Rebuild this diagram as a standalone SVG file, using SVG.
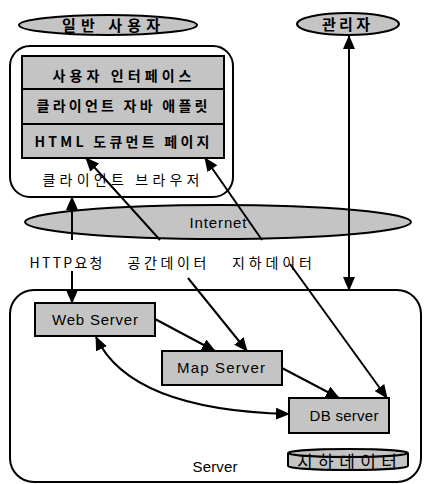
<svg xmlns="http://www.w3.org/2000/svg" width="424" height="484" viewBox="0 0 424 484">
<defs>
<marker id="ah" markerUnits="userSpaceOnUse" markerWidth="14" markerHeight="12" refX="13" refY="6" orient="auto-start-reverse">
<path d="M0,0 L14,6 L0,12 Z" fill="#000"/>
</marker>
</defs>
<style>
.g{fill:#c4c4c4;stroke:#000;stroke-width:2}
.frame{fill:#fff;stroke:#000;stroke-width:2}
.t{font-family:"Liberation Sans","Noto Sans CJK KR",sans-serif;font-size:15px;fill:#000;text-anchor:middle}
.k{font-family:"Noto Sans CJK KR",sans-serif;font-size:14px;fill:#000;text-anchor:middle}
.bd{font-weight:bold}
.c{fill:none;stroke:#000;stroke-width:2}
.a{marker-end:url(#ah)}
.b{marker-start:url(#ah);marker-end:url(#ah)}
</style>
<g id="browser">
<rect class="frame" x="10" y="46" width="223" height="151" rx="20"/>
<rect class="g" x="22" y="56" width="202" height="33"/>
<rect class="g" x="22" y="89" width="202" height="35"/>
<rect class="g" x="22" y="124" width="202" height="34"/>
<text class="k bd" x="122" y="81" textLength="139" lengthAdjust="spacing">사용자 인터페이스</text>
<text class="k bd" x="122" y="111" textLength="171" lengthAdjust="spacing">클라이언트 자바 애플릿</text>
<text class="k bd" x="122" y="147" textLength="175" lengthAdjust="spacing">HTML 도큐먼트 페이지</text>
<text class="k" x="121" y="185" textLength="157" lengthAdjust="spacing">클라이언트 브라우저</text>
</g>
<g id="server">
<rect class="frame" x="10" y="290" width="411" height="192" rx="24"/>
<text class="t" x="215" y="472" textLength="45" lengthAdjust="spacing">Server</text>
</g>
<g id="user">
<ellipse class="g" cx="108" cy="25" rx="89" ry="10"/>
<text class="k bd" x="111" y="31" textLength="98" lengthAdjust="spacing" style="font-size:15px">일반 사용자</text>
</g>
<g id="admin">
<ellipse class="g" cx="348" cy="24" rx="51" ry="11"/>
<text class="k bd" x="346" y="30" textLength="48" lengthAdjust="spacing" style="font-size:15px">관리자</text>
</g>
<g id="internet">
<ellipse class="g" cx="218" cy="222" rx="193" ry="17"/>
<text class="t" x="218" y="228" textLength="57" lengthAdjust="spacing">Internet</text>
</g>
<g id="webserver">
<rect class="g" x="35" y="303" width="120" height="33"/>
<text class="t" x="95" y="325" textLength="86" lengthAdjust="spacing">Web Server</text>
</g>
<g id="mapserver">
<rect class="g" x="162" y="351" width="120" height="34"/>
<text class="t" x="221" y="373" textLength="88" lengthAdjust="spacing">Map Server</text>
</g>
<g id="dbserver">
<rect class="g" x="289" y="398" width="100" height="35"/>
<text class="t" x="344" y="421" textLength="69" lengthAdjust="spacing">DB server</text>
</g>
<g id="storage">
<path class="g" d="M288,453 L288,466 A60,4 0 0 0 408,466 L408,453"/>
<ellipse class="g" cx="348" cy="453" rx="60" ry="4"/>
<text class="k" x="347" y="468" textLength="100" lengthAdjust="spacing" style="font-size:17px">지하데이터</text>
</g>
<g id="labels">
<text class="k" x="66" y="268" textLength="73" lengthAdjust="spacing">HTTP요청</text>
<text class="k" x="167" y="268" textLength="79" lengthAdjust="spacing">공간데이터</text>
<text class="k" x="272" y="268" textLength="80" lengthAdjust="spacing">지하데이터</text>
</g>
<g id="connectors">
<line class="c a" x1="72" y1="240" x2="72" y2="197"/>
<line class="c a" x1="72" y1="271" x2="72" y2="303"/>
<line class="c a" x1="160" y1="240" x2="86" y2="158"/>
<line class="c a" x1="262" y1="240" x2="205" y2="158"/>
<line class="c a" x1="188" y1="278" x2="247" y2="351"/>
<line class="c a" x1="155" y1="319" x2="215" y2="351"/>
<line class="c a" x1="282" y1="368" x2="339" y2="398"/>
<line class="c a" x1="290" y1="264" x2="387" y2="398"/>
<line class="c b" x1="349" y1="36" x2="349" y2="290"/>
<path class="c b" d="M96,337 Q130,410 289,414"/>
</g>
</svg>
